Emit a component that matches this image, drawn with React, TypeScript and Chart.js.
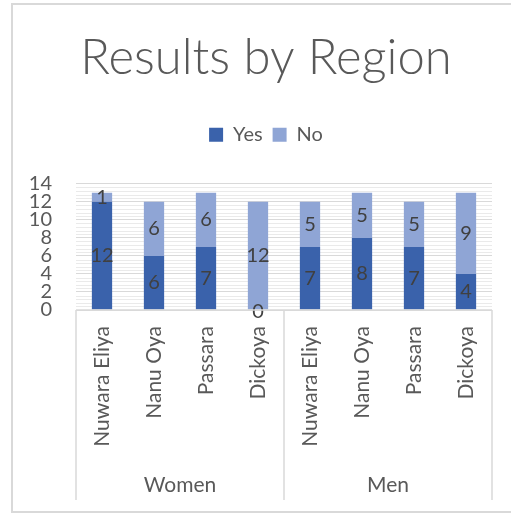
import React, { useEffect, useRef } from "react";
import { Chart, registerables } from "chart.js";

Chart.register(...registerables);

const categories = ["Nuwara Eliya", "Nanu Oya", "Passara", "Dickoya", "Nuwara Eliya", "Nanu Oya", "Passara", "Dickoya"];
const groups = ["Women", "Men"];
const groupSizes = [4, 4];
const yesValues = [12, 6, 7, 0, 7, 8, 7, 4];
const noValues = [1, 6, 6, 12, 5, 5, 5, 9];
const yTickMax = 14;
const yTickStep = 2;
const minorStep = 0.4;

const FONT = "Lato, 'Open Sans', sans-serif";
const TEXT = "#595959";
const LABEL = "#404040";
const LINE = "#D9D9D9";

const extrasPlugin = {
  id: "extras",
  beforeDatasetsDraw(chart: any) {
    const { ctx, chartArea } = chart;
    const y = chart.scales.y;
    ctx.save();
    ctx.strokeStyle = "#EAEAEA";
    ctx.lineWidth = 1;
    for (let v = 0; v <= yTickMax + 1e-6; v += minorStep) {
      const r = v / yTickStep;
      if (Math.abs(r - Math.round(r)) < 1e-6) continue;
      const py = Math.round(y.getPixelForValue(v)) + 0.5;
      ctx.beginPath();
      ctx.moveTo(chartArea.left, py);
      ctx.lineTo(chartArea.right, py);
      ctx.stroke();
    }
    ctx.restore();
  },
  afterDatasetsDraw(chart: any) {
    const { ctx } = chart;
    ctx.save();
    ctx.font = `20px ${FONT}`;
    ctx.fillStyle = LABEL;
    ctx.textAlign = "center";
    ctx.textBaseline = "middle";
    chart.data.datasets.forEach((ds: any, di: number) => {
      const meta = chart.getDatasetMeta(di);
      meta.data.forEach((el: any, i: number) => {
        const v = ds.data[i];
        const cy = (el.y + el.base) / 2 + (v === 0 ? 2 : 0);
        ctx.fillText(String(v), el.x, cy);
      });
    });
    ctx.restore();
  },
  afterDraw(chart: any) {
    const { ctx, chartArea } = chart;
    ctx.save();
    ctx.strokeStyle = LINE;
    ctx.lineWidth = 1.5;
    const bottom = 500;
    ctx.beginPath();
    ctx.moveTo(chartArea.left, chartArea.bottom);
    ctx.lineTo(chartArea.right, chartArea.bottom);
    ctx.stroke();
    const n = categories.length;
    const step = (chartArea.right - chartArea.left) / n;
    let idx = 0;
    const bounds = [0];
    groupSizes.forEach((s) => { idx += s; bounds.push(idx); });
    bounds.forEach((b) => {
      const px = chartArea.left + b * step;
      ctx.beginPath();
      ctx.moveTo(px, chartArea.bottom);
      ctx.lineTo(px, bottom);
      ctx.stroke();
    });
    ctx.font = `21px ${FONT}`;
    ctx.fillStyle = TEXT;
    ctx.textAlign = "center";
    ctx.textBaseline = "middle";
    groups.forEach((g, gi) => {
      const cx = chartArea.left + ((bounds[gi] + bounds[gi + 1]) / 2) * step;
      ctx.fillText(g, cx, 485);
    });
    ctx.restore();
  },
};

export default function App() {
  const ref = useRef<HTMLCanvasElement>(null);
  useEffect(() => {
    if (!ref.current) return;
    const chart = new Chart(ref.current, {
      type: "bar",
      data: {
        labels: categories,
        datasets: [
          { label: "Yes", data: yesValues, backgroundColor: "#3A62AB", barPercentage: 0.39, categoryPercentage: 1 },
          { label: "No", data: noValues, backgroundColor: "#8FA5D5", barPercentage: 0.39, categoryPercentage: 1 },
        ],
      },
      options: {
        animation: false,
        responsive: false,
        layout: { padding: { left: 0, right: 0, top: 0, bottom: 3 } },
        plugins: {
          title: {
            display: true,
            text: "Results by Region",
            color: TEXT,
            font: { family: FONT, size: 49, weight: "300", lineHeight: 1.2 },
            padding: { top: 29, bottom: 27 },
          },
          legend: {
            display: true,
            labels: {
              color: TEXT,
              font: { family: FONT, size: 20 },
              boxWidth: 14,
              boxHeight: 14,
              padding: 10,
            },
          },
          tooltip: { enabled: false },
        },
        scales: {
          x: {
            stacked: true,
            grid: { display: false, drawTicks: false },
            border: { display: false },
            ticks: {
              color: TEXT,
              font: { family: FONT, size: 21 },
              minRotation: 90,
              maxRotation: 90,
              autoSkip: false,
              padding: 16,
            },
            afterFit(scale: any) { scale.height = 200; },
          },
          xTop: {
            type: "category",
            position: "top",
            display: true,
            grid: { display: false, drawTicks: false },
            border: { display: false },
            ticks: { display: false },
            afterFit(scale: any) { scale.height = 29; },
          },
          y: {
            stacked: true,
            min: 0,
            max: yTickMax,
            grid: { color: LINE, drawTicks: false },
            border: { display: false },
            ticks: {
              stepSize: yTickStep,
              autoSkip: false,
              color: TEXT,
              font: { family: FONT, size: 20, lineHeight: 1 },
              padding: 24,
            },
            afterFit(scale: any) { scale.width = 76; },
          },
          yRight: {
            type: "linear",
            position: "right",
            display: true,
            grid: { display: false, drawTicks: false },
            border: { display: false },
            ticks: { display: false },
            afterFit(scale: any) { scale.width = 40; },
          },
        },
      },
      plugins: [extrasPlugin],
    });
    return () => chart.destroy();
  }, []);
  return (
    <div style={{ position: "fixed", left: 0, top: 0, width: 511, height: 513, overflow: "hidden", background: "#fff" }}>
      <div style={{ position: "absolute", left: 11, top: 3, width: 560, height: 506, border: "2px solid #D9D9D9" }} />
      <canvas ref={ref} width={532} height={513} style={{ position: "absolute", left: 0, top: 0 }} />
    </div>
  );
}
